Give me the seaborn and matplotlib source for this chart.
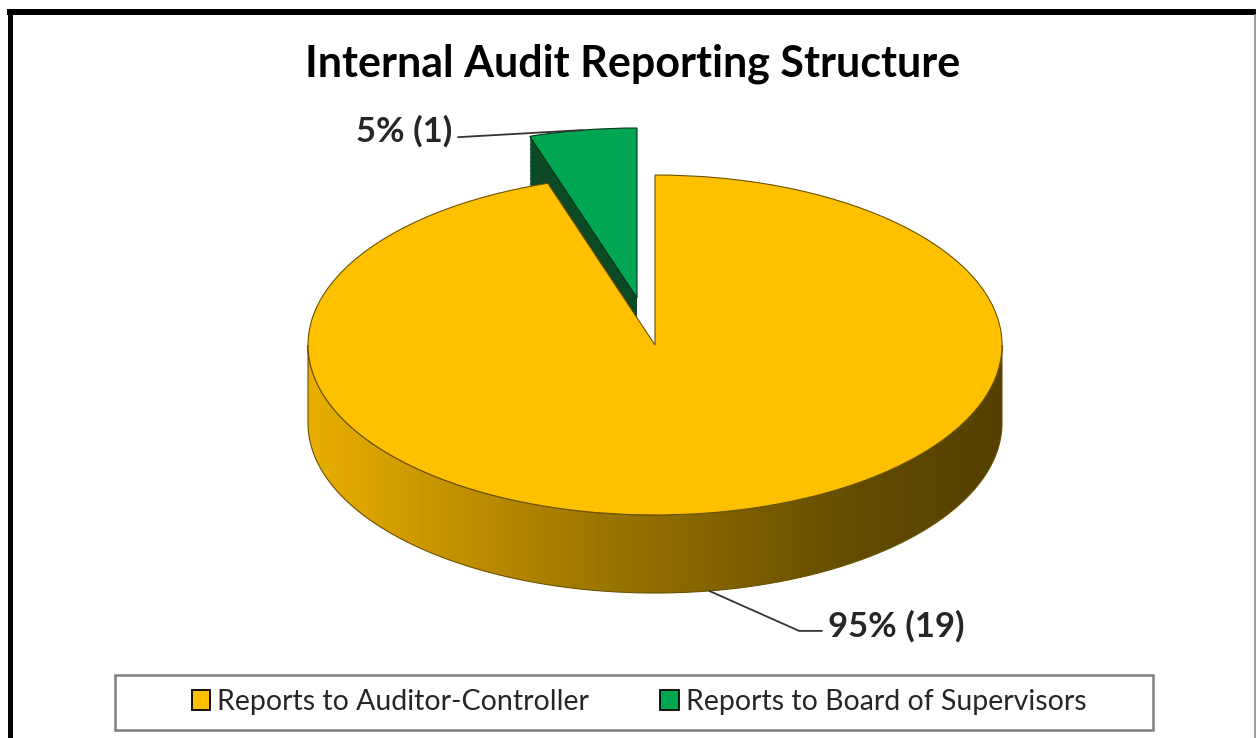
import numpy as np
import matplotlib
matplotlib.use("Agg")
import matplotlib.pyplot as plt
import seaborn as sns
from matplotlib.colors import LinearSegmentedColormap
from matplotlib.patches import Polygon, Patch, Rectangle
from matplotlib.lines import Line2D

# ---- data ----
categories = ["Reports to Auditor-Controller", "Reports to Board of Supervisors"]
counts = [19, 1]
title = "Internal Audit Reporting Structure"

sns.set_theme(style="white")
plt.rcParams["font.family"] = ["Lato", "DejaVu Sans"]

W, H = 1256, 738
fig = plt.figure(figsize=(W / 100, H / 100), dpi=100)
fig.patch.set_facecolor("white")
ax = fig.add_axes([0, 0, 1, 1])

# layout (pixels, y measured from the bottom)
cx, cy = 655, H - 345
rx, ry = 347, 170
depth = 78 / ry

yellow = "#FFC000"
green = "#00A651"
dgreen = "#0B4A24"
edge_y = "#6B5200"
edge_g = "#07361B"

total = sum(counts)
green_center = (-18 / rx, 47 / ry)

# ---- green (exploded) slice with thickness ----
n_layers = 60
for k in range(n_layers, 0, -1):
    off = depth * k / n_layers
    wedges, _ = ax.pie(counts, startangle=90, counterclock=False, radius=1,
                       center=(green_center[0], green_center[1] - off),
                       colors=["none", dgreen], wedgeprops=dict(linewidth=0))
    wedges[0].set_visible(False)
    wedges[1].set_zorder(1)
gw, _ = ax.pie(counts, startangle=90, counterclock=False, radius=1,
               center=green_center, colors=["none", green],
               wedgeprops=dict(edgecolor=edge_g, linewidth=0.8))
gw[0].set_visible(False)
gw[1].set_zorder(2)

# ---- yellow slice top face ----
yw, _ = ax.pie(counts, startangle=90, counterclock=False, radius=1,
               center=(0, 0), colors=[yellow, "none"],
               wedgeprops=dict(edgecolor=edge_y, linewidth=0.8))
yw[1].set_visible(False)
ytop = yw[0]
ytop.set_zorder(4)

# ---- yellow side wall (gradient) ----
r = ytop.r
c0 = ytop.center
t = np.radians(np.linspace(180, 360, 300))
top_x = c0[0] + r * np.cos(t)
top_y = c0[1] + r * np.sin(t)
verts = np.column_stack([np.r_[top_x, top_x[::-1]],
                         np.r_[top_y, top_y[::-1] - depth]])
band = Polygon(verts, closed=True, facecolor="none", edgecolor=edge_y,
               linewidth=0.8, zorder=3.5)
ax.add_patch(band)
cmap = LinearSegmentedColormap.from_list(
    "side", ["#E9AF00", "#C59300", "#A07800", "#806200", "#624B00", "#544000"])
grad = np.linspace(0, 1, 512)[None, :]
im = ax.imshow(grad, extent=(c0[0] - r, c0[0] + r, c0[1] - r - depth, c0[1]),
               cmap=cmap, aspect="auto", zorder=3, interpolation="bilinear")
im.set_clip_path(band)

ax.set_xlim(-cx / rx, (W - cx) / rx)
ax.set_ylim(-cy / ry, (H - cy) / ry)
ax.set_aspect("auto")
ax.axis("off")

# ---- data labels ----
labels = [f"{c / total * 100:.0f}% ({c})" for c in counts]
g = gw[1]
gmid = np.radians((g.theta1 + g.theta2) / 2)
gxy = (g.center[0] + g.r * np.cos(gmid), g.center[1] + g.r * np.sin(gmid))
ax.annotate(labels[1], xy=gxy, xytext=(452, H - 131), textcoords="figure pixels",
            ha="right", va="center", fontsize=25, fontweight="bold", color="#262626",
            arrowprops=dict(arrowstyle="-", color="#333333", lw=1.3,
                            shrinkA=2, shrinkB=0, relpos=(1, 0.3)),
            zorder=6)

ymid = np.radians((ytop.theta1 + ytop.theta2) / 2)
yxy = (c0[0] + r * np.cos(ymid), c0[1] + r * np.sin(ymid) - depth)
ax.annotate(labels[0], xy=yxy, xytext=(828, H - 626), textcoords="figure pixels",
            ha="left", va="center", fontsize=25, fontweight="bold", color="#262626",
            arrowprops=dict(arrowstyle="-", color="#333333", lw=1.3,
                            shrinkA=2, shrinkB=0, relpos=(0, 0.35),
                            connectionstyle="angle,angleA=0,angleB=-24,rad=0"),
            zorder=6)

# ---- title ----
fig.text(633 / W, (H - 64) / H, title, ha="center", va="center",
         fontsize=31, fontweight="bold", color="black")

# ---- legend ----
handles = [Patch(facecolor=yellow, edgecolor="black", linewidth=1.3),
           Patch(facecolor=green, edgecolor="black", linewidth=1.3)]
fig.legend(handles, categories, loc="center", bbox_to_anchor=(639 / W, (H - 702) / H),
           ncol=2, frameon=False, fontsize=20.5, handlelength=0.65, handleheight=0.65,
           handletextpad=0.25, columnspacing=2.5, labelcolor="#262626")
fig.add_artist(Rectangle((115 / W, (H - 730) / H), (1153 - 115) / W, 55 / H,
                         transform=fig.transFigure, fill=False,
                         edgecolor="#7F7F7F", linewidth=1.8))

# ---- outer frame ----
fig.add_artist(Line2D([7 / W, 1], [(H - 12) / H] * 2, transform=fig.transFigure,
                      color="black", linewidth=4.3, solid_capstyle="butt"))
fig.add_artist(Line2D([9.5 / W] * 2, [0, (H - 9) / H], transform=fig.transFigure,
                      color="black", linewidth=3.6, solid_capstyle="butt"))
fig.add_artist(Line2D([1254.5 / W] * 2, [0, (H - 14) / H], transform=fig.transFigure,
                      color="#8C8C8C", linewidth=1.2, solid_capstyle="butt"))

fig.savefig("out.png", dpi=100)
